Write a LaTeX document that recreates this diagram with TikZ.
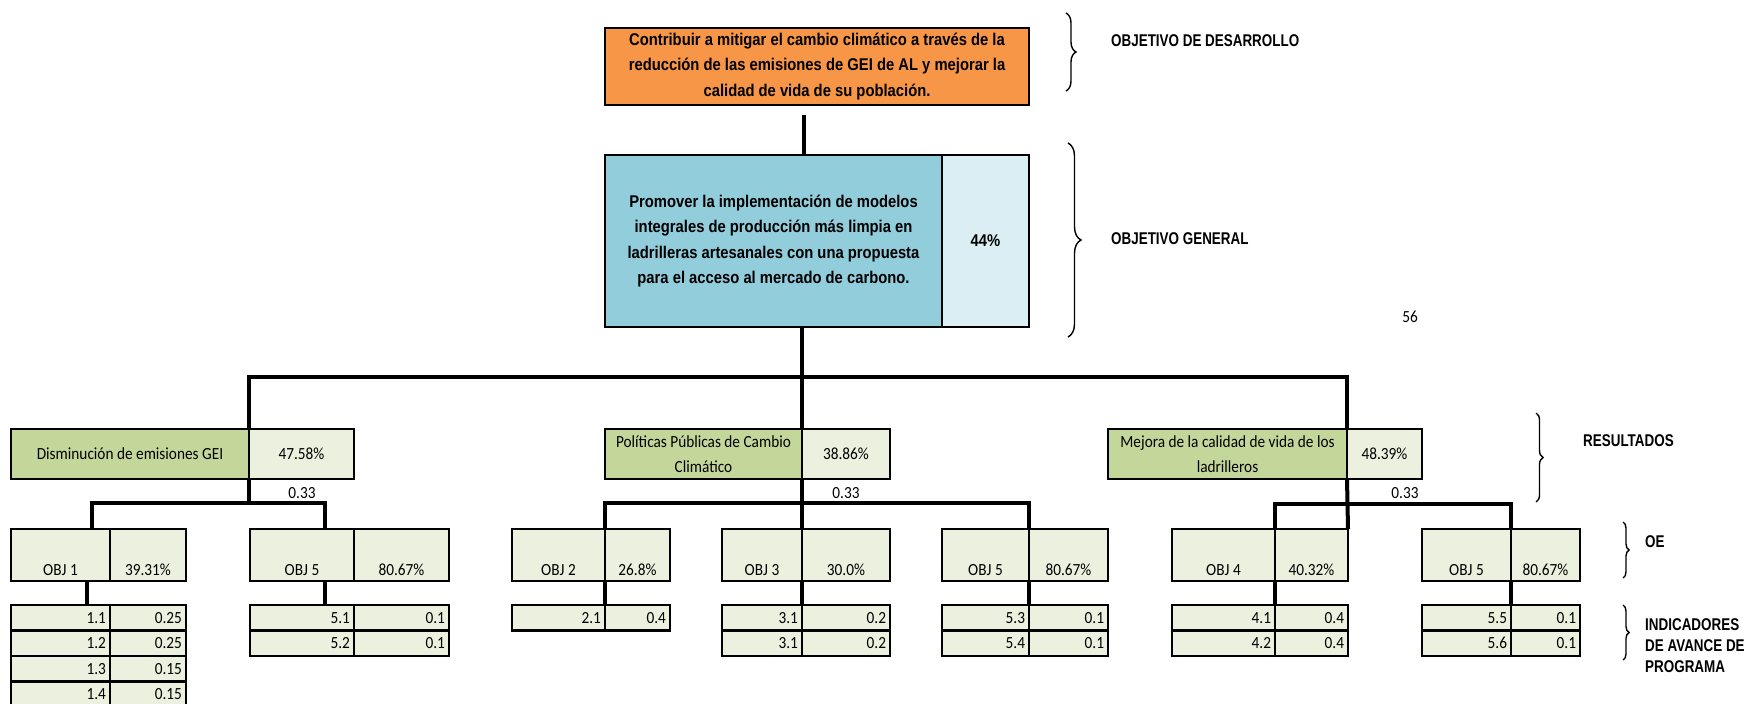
\documentclass[tikz,border=0pt]{standalone}
\usepackage{fontspec}
\usetikzlibrary{calc}
\usetikzlibrary{decorations.pathreplacing}
\newfontfamily\narrowsans[FakeStretch=0.87]{Liberation Sans}
\newfontfamily\tagsans[FakeStretch=0.79]{Liberation Sans}
\newfontfamily\calsans[FakeStretch=0.9]{Carlito}
\definecolor{orangeobj}{HTML}{F79646}
\definecolor{blueobj}{HTML}{92CDDC}
\definecolor{bluepct}{HTML}{DAEEF3}
\definecolor{greenres}{HTML}{C4D79B}
\definecolor{greenpale}{HTML}{EBF1DE}
\tikzset{
  cell/.style={draw, line width=2.8pt, inner sep=0pt, outer sep=0pt, anchor=north west},
  objtext/.style={font=\narrowsans\bfseries\fontsize{17}{25.5}\selectfont, align=center},
  num/.style={font=\calsans\fontsize{17}{25}\selectfont},
  rescell/.style={cell, minimum height=50pt, num, align=center},
  oecell/.style={cell, fill=greenpale, num, text height=46pt, text depth=6pt},
  ind/.style={draw, line width=2.8pt, outer sep=0pt, inner ysep=0pt, inner xsep=4pt,
    minimum height=25.5pt, anchor=north west, align=right, fill=greenpale, num},
  tag/.style={font=\tagsans\bfseries\fontsize{17}{21}\selectfont, anchor=west, inner sep=0pt},
  link/.style={line width=4pt},
  lbrace/.style={decorate, decoration={brace, amplitude=#1}, line width=1.4pt}
}
\begin{document}
\begin{tikzpicture}[x=1pt,y=-1pt]
  \useasboundingbox (0,0) rectangle (1751,704);
  % objetivo de desarrollo y objetivo general
  \node[cell, fill=orangeobj, minimum width=424pt, minimum height=77pt, objtext] (desarrollo) at (605,28)
    {Contribuir a mitigar el cambio climático a través de la\\reducción de las emisiones de GEI de AL y mejorar la\\calidad de vida de su población.};
  \node[cell, fill=blueobj, minimum width=337pt, minimum height=172pt, objtext] (general) at (605,155)
    {Promover la implementación de modelos\\integrales de producción más limpia en\\ladrilleras artesanales con una propuesta\\para el acceso al mercado de carbono.};
  \node[cell, fill=bluepct, minimum width=87pt, minimum height=172pt, objtext] (generalpct) at (942,155) {44\%};
  % resultados
  \node[rescell, fill=greenres, minimum width=238pt] (res1) at (11,429) {Disminución de emisiones GEI};
  \node[rescell, fill=greenpale, minimum width=105pt] (res1pct) at (249,429) {47.58\%};
  \node[rescell, fill=greenres, minimum width=197pt] (res2) at (605,429) {Políticas Públicas de Cambio\\Climático};
  \node[rescell, fill=greenpale, minimum width=88pt] (res2pct) at (802,429) {38.86\%};
  \node[rescell, fill=greenres, minimum width=239pt] (res3) at (1108,429) {Mejora de la calidad de vida de los\\ladrilleros};
  \node[rescell, fill=greenpale, minimum width=75pt] (res3pct) at (1347,429) {48.39\%};
  \node[num] (peso1) at (302,493) {0.33};
  \node[num] (peso2) at (846,493) {0.33};
  \node[num] (peso3) at (1405,493) {0.33};
  % objetivos especificos
  \node[oecell, minimum width=99pt] (o1) at (11,529) {OBJ 1};
  \node[oecell, minimum width=76pt] (o1pct) at (110,529) {39.31\%};
  \node[oecell, minimum width=104pt] (o5a) at (250,529) {OBJ 5};
  \node[oecell, minimum width=95pt] (o5apct) at (354,529) {80.67\%};
  \node[oecell, minimum width=93pt] (o2) at (512,529) {OBJ 2};
  \node[oecell, minimum width=65pt] (o2pct) at (605,529) {26.8\%};
  \node[oecell, minimum width=80pt] (o3) at (722,529) {OBJ 3};
  \node[oecell, minimum width=88pt] (o3pct) at (802,529) {30.0\%};
  \node[oecell, minimum width=87pt] (o5b) at (942,529) {OBJ 5};
  \node[oecell, minimum width=79pt] (o5bpct) at (1029,529) {80.67\%};
  \node[oecell, minimum width=103pt] (o4) at (1172,529) {OBJ 4};
  \node[oecell, minimum width=73pt] (o4pct) at (1275,529) {40.32\%};
  \node[oecell, minimum width=89pt] (o5c) at (1422,529) {OBJ 5};
  \node[oecell, minimum width=69pt] (o5cpct) at (1511,529) {80.67\%};
  % indicadores
  \foreach \n/\v [count=\k from 0] in {1.1/0.25,1.2/0.25,1.3/0.15,1.4/0.15}{
    \node[ind, text width=91pt] (i1n\k) at (11,{605+25.5*\k}) {\n};
    \node[ind, text width=68pt] (i1v\k) at (110,{605+25.5*\k}) {\v};
  }
  \foreach \n/\v [count=\k from 0] in {5.1/0.1,5.2/0.1}{
    \node[ind, text width=96pt] (i5an\k) at (250,{605+25.5*\k}) {\n};
    \node[ind, text width=87pt] (i5av\k) at (354,{605+25.5*\k}) {\v};
  }
  \node[ind, text width=85pt] (i2n0) at (512,605) {2.1};
  \node[ind, text width=57pt] (i2v0) at (605,605) {0.4};
  \foreach \n/\v [count=\k from 0] in {3.1/0.2,3.1/0.2}{
    \node[ind, text width=72pt] (i3n\k) at (722,{605+25.5*\k}) {\n};
    \node[ind, text width=80pt] (i3v\k) at (802,{605+25.5*\k}) {\v};
  }
  \foreach \n/\v [count=\k from 0] in {5.3/0.1,5.4/0.1}{
    \node[ind, text width=79pt] (i5bn\k) at (942,{605+25.5*\k}) {\n};
    \node[ind, text width=71pt] (i5bv\k) at (1029,{605+25.5*\k}) {\v};
  }
  \foreach \n/\v [count=\k from 0] in {4.1/0.4,4.2/0.4}{
    \node[ind, text width=95pt] (i4n\k) at (1172,{605+25.5*\k}) {\n};
    \node[ind, text width=65pt] (i4v\k) at (1275,{605+25.5*\k}) {\v};
  }
  \foreach \n/\v [count=\k from 0] in {5.5/0.1,5.6/0.1}{
    \node[ind, text width=81pt] (i5cn\k) at (1422,{605+25.5*\k}) {\n};
    \node[ind, text width=61pt] (i5cv\k) at (1511,{605+25.5*\k}) {\v};
  }
  % conectores
  \coordinate (gap) at (804,115);
  \draw[link] (gap) -- (gap |- general.north);
  \coordinate (hub) at (802,377);
  \draw[link] (hub |- general.south) -- (hub);
  \draw[link] (res1pct.north west) |- (hub) -| (res3pct.north west);
  \draw[link] (hub) -- (res2pct.north west);
  \draw[link] (res1pct.south west) -- ++(0,24) coordinate (hub1);
  \draw[link] ([xshift=31.5pt]o1.north) |- (hub1) -| ([xshift=23pt]o5a.north);
  \draw[link] (res2pct.south west) -- (o3pct.north west);
  \draw[link] (o2pct.north west) -- ++(0,-26) -| (o5bpct.north west);
  \draw[link] (res3pct.south west) -- (o4pct.north east);
  \draw[link] (o4pct.north west) -- ++(0,-25) -| (o5cpct.north west);
  \draw[link] ([xshift=26.5pt]o1.south) -- ([xshift=26.5pt]i1n0.north);
  \draw[link] ([xshift=23pt]o5a.south) -- ([xshift=23pt]i5an0.north);
  \draw[link] (o2pct.south west) -- (i2v0.north west);
  \draw[link] (o3pct.south west) -- (i3v0.north west);
  \draw[link] (o5bpct.south west) -- (i5bv0.north west);
  \draw[link] (o4pct.south west) -- (i4v0.north west);
  \draw[link] (o5cpct.south west) -- (i5cv0.north west);
  % llaves y niveles
  \draw[lbrace=10pt] (1066,13) -- (1066,91);
  \draw[lbrace=13pt] (1068,143) -- (1068,337);
  \draw[lbrace=7pt] (1536,413) -- (1536,502);
  \draw[lbrace=6pt] (1623,522) -- (1623,578);
  \draw[lbrace=6pt] (1623,605) -- (1623,660);
  \node[tag] (tdesarrollo) at (1111,41) {OBJETIVO DE DESARROLLO};
  \node[tag] (tgeneral) at (1111,239) {OBJETIVO GENERAL};
  \node[tag] (tresultados) at (1583,441) {RESULTADOS};
  \node[tag] (toe) at (1645,542) {OE};
  \node[tag, align=left] (tindicadores) at (1645,646) {INDICADORES\\DE AVANCE DE\\PROGRAMA};
  \node[num] (pagina) at (1410,317) {56};
\end{tikzpicture}
\end{document}
